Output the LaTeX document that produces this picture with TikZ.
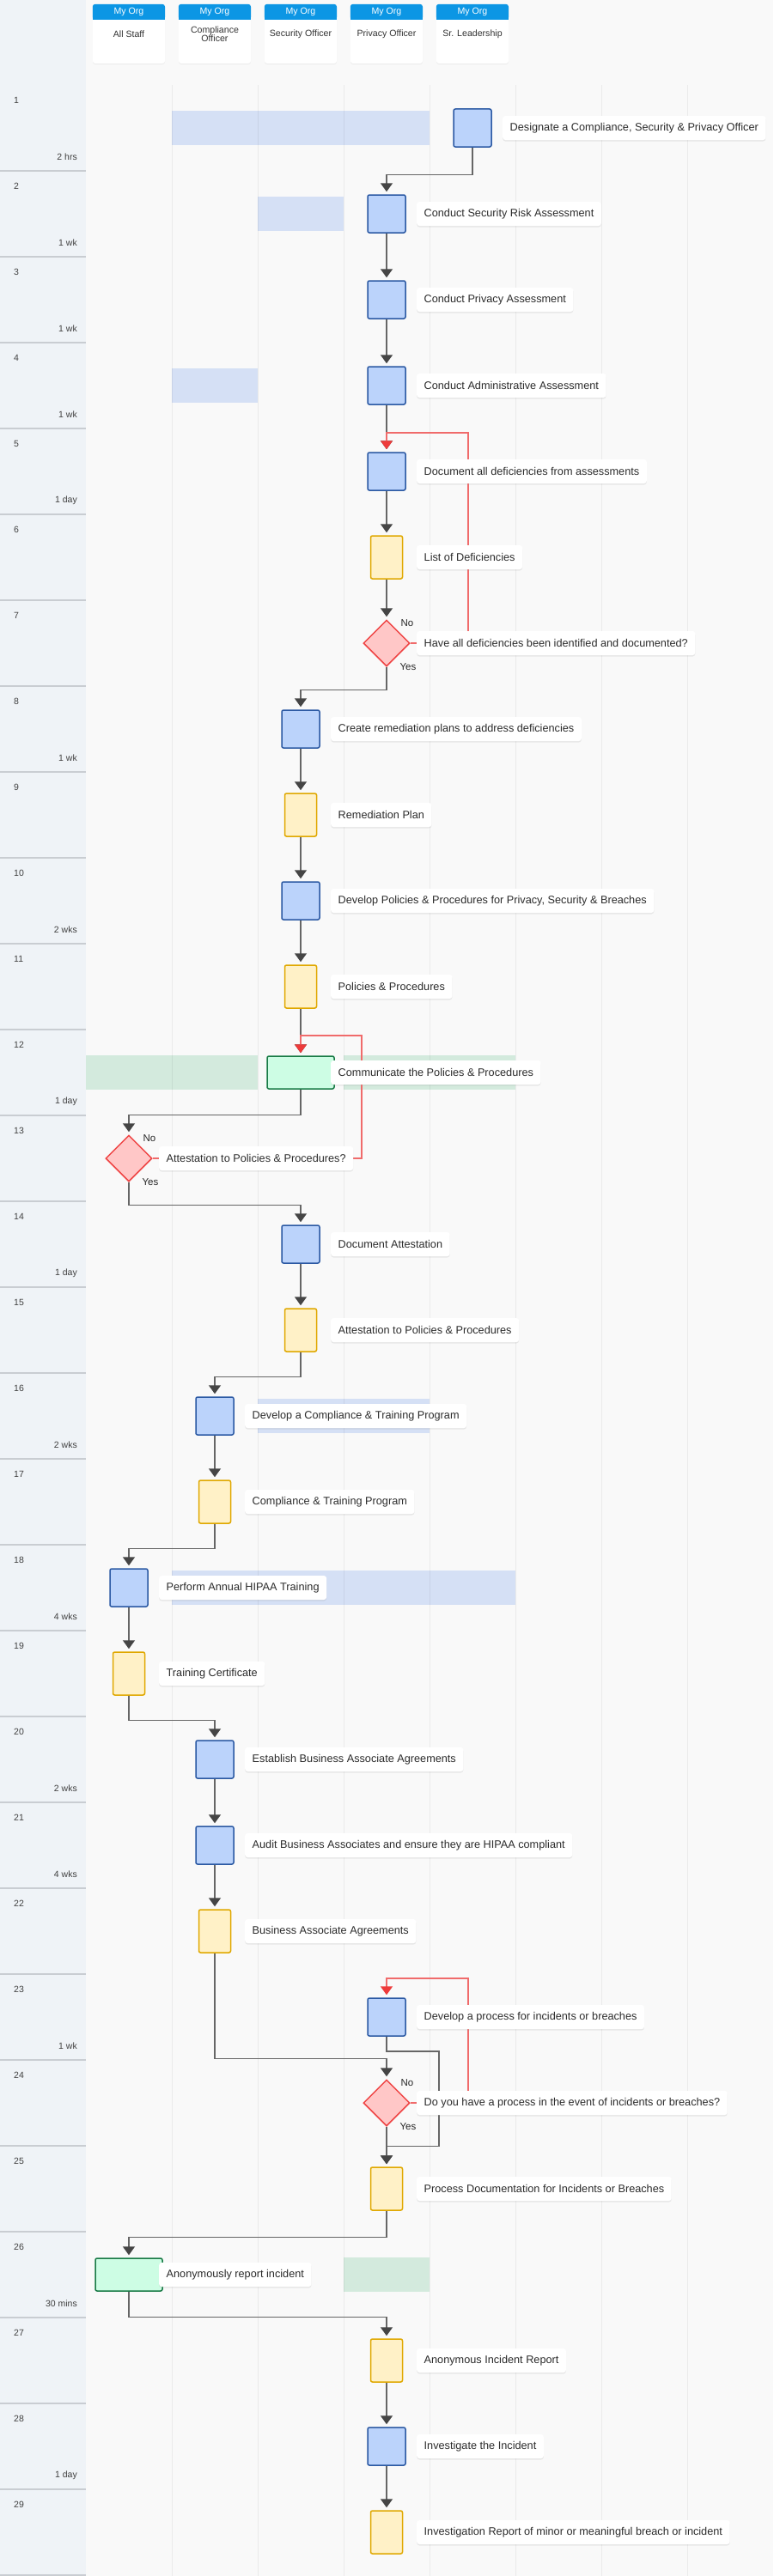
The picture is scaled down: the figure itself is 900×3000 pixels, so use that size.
\documentclass[tikz,border=0pt]{standalone}
\usepackage{fontspec}
\setmainfont{Liberation Sans}
\usetikzlibrary{shapes.geometric,positioning,arrows.meta,shadows}

\definecolor{sidebg}{HTML}{EFF3F7}
\definecolor{mainbg}{HTML}{F9F9F9}
\definecolor{sepgrey}{HTML}{C9CDD2}
\definecolor{orgblue}{HTML}{0C96E4}
\definecolor{bandblue}{HTML}{D5E0F5}
\definecolor{bandgreen}{HTML}{D3EADD}
\definecolor{stepfill}{HTML}{BBD3FB}
\definecolor{stepline}{HTML}{2B59A3}
\definecolor{docfill}{HTML}{FFF1C7}
\definecolor{docline}{HTML}{E0A800}
\definecolor{askfill}{HTML}{FFC7C7}
\definecolor{askline}{HTML}{EF4444}
\definecolor{talkfill}{HTML}{CDFDE4}
\definecolor{talkline}{HTML}{177A45}
\definecolor{wiregrey}{HTML}{666666}
\definecolor{tipgrey}{HTML}{454545}
\definecolor{loopred}{HTML}{F06B6B}
\definecolor{tipred}{HTML}{EE3B3B}
\definecolor{textgrey}{HTML}{2C2C2C}

\pgfdeclarelayer{back}
\pgfdeclarelayer{wires}
\pgfsetlayers{back,wires,main}

\tikzset{
  stepbox/.style={rectangle, draw=stepline, fill=stepfill, line width=1.5pt,
    rounded corners=2pt, minimum width=44pt, minimum height=44pt, inner sep=0pt},
  docbox/.style={rectangle, draw=docline, fill=docfill, line width=1.5pt,
    rounded corners=2pt, minimum width=37pt, minimum height=50pt, inner sep=0pt},
  askbox/.style={diamond, draw=askline, fill=askfill, line width=1.5pt,
    minimum width=54pt, minimum height=54pt, inner sep=0pt},
  talkbox/.style={rectangle, draw=talkline, fill=talkfill, line width=1.5pt,
    rounded corners=2pt, minimum width=78pt, minimum height=38pt, inner sep=0pt},
  tag/.style={rectangle, fill=white, rounded corners=3pt, minimum height=28pt,
    inner xsep=8.5pt, inner ysep=0pt, text=textgrey, font=\fontsize{12.7}{14}\selectfont,
    drop shadow={opacity=0.15, shadow xshift=0pt, shadow yshift=-1.5pt}},
  answer/.style={font=\fontsize{11.5}{13}\selectfont, text=black!85, inner sep=0pt},
  flow/.style={draw=wiregrey, line width=1.5pt, shorten >=3pt,
    -{Triangle[width=14pt,length=10pt,color=tipgrey]}},
  redo/.style={draw=loopred, line width=1.5pt, shorten >=3pt,
    -{Triangle[width=14pt,length=10pt,color=tipred]}},
  card/.style={rectangle, fill=white, rounded corners=3pt, minimum width=84pt,
    minimum height=69pt, inner sep=0pt,
    drop shadow={opacity=0.12, shadow xshift=0pt, shadow yshift=-1pt}},
  orgname/.style={font=\fontsize{10.6}{12}\selectfont, text=white, inner sep=0pt},
  lanename/.style={font=\fontsize{10.6}{10}\selectfont, text=black!80, align=center, inner sep=0pt},
  rownum/.style={font=\fontsize{10.5}{12}\selectfont, text=black!75, inner sep=0pt},
}

\begin{document}
\begin{tikzpicture}[x=1pt, y=-1pt]
  \useasboundingbox (0,0) rectangle (900,3000);

  % page, lanes and rows
  \begin{pgfonlayer}{back}
    \fill[mainbg] (100,0) rectangle (900,3000);
    \fill[sidebg] (0,0) rectangle (100,3000);
    \foreach \a/\b/\r/\c in {200/500/1/bandblue, 300/400/2/bandblue, 200/300/4/bandblue,
        100/300/12/bandgreen, 400/600/12/bandgreen, 300/500/16/bandblue,
        200/600/18/bandblue, 400/500/26/bandgreen}
      \fill[\c] (\a,{100*\r+29}) rectangle (\b,{100*\r+69});
    \foreach \x in {200,300,...,800}
      \draw[black, opacity=0.06, line width=1pt] (\x,99) -- (\x,3000);
    \foreach \n in {1,...,29} {
      \draw[sepgrey, line width=1.5pt] (0,{100*\n+99}) -- (100,{100*\n+99});
      \node[rownum, anchor=west] (num\n) at (16,{100*\n+17}) {\n};
    }
    \foreach \n/\t in {1/2 hrs, 2/1 wk, 3/1 wk, 4/1 wk, 5/1 day, 8/1 wk, 10/2 wks,
        12/1 day, 14/1 day, 16/2 wks, 18/4 wks, 20/2 wks, 21/4 wks, 23/1 wk,
        26/30 mins, 28/1 day}
      \node[rownum, anchor=east] (dur\n) at (90,{100*\n+83}) {\t};
  \end{pgfonlayer}

  % lane headers
  \foreach \x/\lane [count=\i] in {150/All Staff, 250/{Compliance\\Officer},
      350/Security Officer, 450/Privacy Officer, 550/Sr. Leadership} {
    \node[card] (card\i) at (\x,39.5) {};
    \fill[orgblue, rounded corners=3pt] (card\i.north west) rectangle (\x+42,23);
    \fill[orgblue] (\x-42,14) rectangle (\x+42,23);
    \node[orgname] (org\i) at (\x,14) {My Org};
    \node[lanename] (lane\i) at (\x,40) {\lane};
  }

  % steps
  \node[stepbox] (s1) at (550,149) {};
  \node[stepbox] (s2) at (450,249) {};
  \node[stepbox] (s3) at (450,349) {};
  \node[stepbox] (s4) at (450,449) {};
  \node[stepbox] (s5) at (450,549) {};
  \node[docbox]  (d6) at (450,649) {};
  \node[askbox]  (q7) at (450,749) {};
  \node[stepbox] (s8) at (350,849) {};
  \node[docbox]  (d9) at (350,949) {};
  \node[stepbox] (s10) at (350,1049) {};
  \node[docbox]  (d11) at (350,1149) {};
  \node[talkbox] (t12) at (350,1249) {};
  \node[askbox]  (q13) at (150,1349) {};
  \node[stepbox] (s14) at (350,1449) {};
  \node[docbox]  (d15) at (350,1549) {};
  \node[stepbox] (s16) at (250,1649) {};
  \node[docbox]  (d17) at (250,1749) {};
  \node[stepbox] (s18) at (150,1849) {};
  \node[docbox]  (d19) at (150,1949) {};
  \node[stepbox] (s20) at (250,2049) {};
  \node[stepbox] (s21) at (250,2149) {};
  \node[docbox]  (d22) at (250,2249) {};
  \node[stepbox] (s23) at (450,2349) {};
  \node[askbox]  (q24) at (450,2449) {};
  \node[docbox]  (d25) at (450,2549) {};
  \node[talkbox] (t26) at (150,2649) {};
  \node[docbox]  (d27) at (450,2749) {};
  \node[stepbox] (s28) at (450,2849) {};
  \node[docbox]  (d29) at (450,2949) {};

  % labels
  \node[tag, right=35pt of s1.center] (l1) {Designate a Compliance, Security \& Privacy Officer};
  \node[tag, right=35pt of s2.center] (l2) {Conduct Security Risk Assessment};
  \node[tag, right=35pt of s3.center] (l3) {Conduct Privacy Assessment};
  \node[tag, right=35pt of s4.center] (l4) {Conduct Administrative Assessment};
  \node[tag, right=35pt of s5.center] (l5) {Document all deficiencies from assessments};
  \node[tag, right=35pt of d6.center] (l6) {List of Deficiencies};
  \node[tag, right=35pt of q7.center] (l7) {Have all deficiencies been identified and documented?};
  \node[tag, right=35pt of s8.center] (l8) {Create remediation plans to address deficiencies};
  \node[tag, right=35pt of d9.center] (l9) {Remediation Plan};
  \node[tag, right=35pt of s10.center] (l10) {Develop Policies \& Procedures for Privacy, Security \& Breaches};
  \node[tag, right=35pt of d11.center] (l11) {Policies \& Procedures};
  \node[tag, right=35pt of t12.center] (l12) {Communicate the Policies \& Procedures};
  \node[tag, right=35pt of q13.center] (l13) {Attestation to Policies \& Procedures?};
  \node[tag, right=35pt of s14.center] (l14) {Document Attestation};
  \node[tag, right=35pt of d15.center] (l15) {Attestation to Policies \& Procedures};
  \node[tag, right=35pt of s16.center] (l16) {Develop a Compliance \& Training Program};
  \node[tag, right=35pt of d17.center] (l17) {Compliance \& Training Program};
  \node[tag, right=35pt of s18.center] (l18) {Perform Annual HIPAA Training};
  \node[tag, right=35pt of d19.center] (l19) {Training Certificate};
  \node[tag, right=35pt of s20.center] (l20) {Establish Business Associate Agreements};
  \node[tag, right=35pt of s21.center] (l21) {Audit Business Associates and ensure they are HIPAA compliant};
  \node[tag, right=35pt of d22.center] (l22) {Business Associate Agreements};
  \node[tag, right=35pt of s23.center] (l23) {Develop a process for incidents or breaches};
  \node[tag, right=35pt of q24.center] (l24) {Do you have a process in the event of incidents or breaches?};
  \node[tag, right=35pt of d25.center] (l25) {Process Documentation for Incidents or Breaches};
  \node[tag, right=35pt of t26.center] (l26) {Anonymously report incident};
  \node[tag, right=35pt of d27.center] (l27) {Anonymous Incident Report};
  \node[tag, right=35pt of s28.center] (l28) {Investigate the Incident};
  \node[tag, right=35pt of d29.center] (l29) {Investigation Report of minor or meaningful breach or incident};

  % decision answers
  \foreach \q in {q7,q13,q24} {
    \node[answer] (\q no) at ([shift={(24pt,23pt)}]\q.center) {No};
    \node[answer] (\q yes) at ([shift={(25pt,-28pt)}]\q.center) {Yes};
  }

  % connectors
  \begin{pgfonlayer}{wires}
    \draw[flow] (s1.south) |- ([yshift=23pt]s2.north) -- (s2.north);
    \draw[flow] (s2) -- (s3);
    \draw[flow] (s3) -- (s4);
    \draw[flow] (s4) -- (s5);
    \draw[flow] (s5) -- (d6);
    \draw[flow] (d6) -- (q7);
    \draw[flow] (q7.south) |- ([yshift=23pt]s8.north) -- (s8.north);
    \draw[flow] (s8) -- (d9);
    \draw[flow] (d9) -- (s10);
    \draw[flow] (s10) -- (d11);
    \draw[flow] (d11) -- (t12);
    \draw[flow] (t12.south) |- ([yshift=23pt]q13.north) -- (q13.north);
    \draw[flow] (q13.south) |- ([yshift=23pt]s14.north) -- (s14.north);
    \draw[flow] (s14) -- (d15);
    \draw[flow] (d15.south) |- ([yshift=23pt]s16.north) -- (s16.north);
    \draw[flow] (s16) -- (d17);
    \draw[flow] (d17.south) |- ([yshift=23pt]s18.north) -- (s18.north);
    \draw[flow] (s18) -- (d19);
    \draw[flow] (d19.south) |- ([yshift=23pt]s20.north) -- (s20.north);
    \draw[flow] (s20) -- (s21);
    \draw[flow] (s21) -- (d22);
    \draw[flow] (d22.south) |- ([yshift=24pt]q24.north) -- (q24.north);
    \coordinate (turn23) at (511,2389);
    \draw[flow] (s23.south) |- (turn23) |- ([yshift=24pt]d25.north) -- (d25.north);
    \draw[flow] (q24) -- (d25);
    \draw[flow] (d25.south) |- ([yshift=24pt]t26.north) -- (t26.north);
    \draw[flow] (t26.south) |- ([yshift=25pt]d27.north) -- (d27.north);
    \draw[flow] (d27) -- (s28);
    \draw[flow] (s28) -- (d29);
    % No branches
    \coordinate (turn7) at (545,504);
    \coordinate (turn13) at (421,1206);
    \coordinate (turn24) at (545,2304);
    \draw[redo] (q7.east) -| (turn7) -| (s5.north);
    \draw[redo] (q13.east) -| (turn13) -| (t12.north);
    \draw[redo] (q24.east) -| (turn24) -| (s23.north);
  \end{pgfonlayer}
\end{tikzpicture}
\end{document}
